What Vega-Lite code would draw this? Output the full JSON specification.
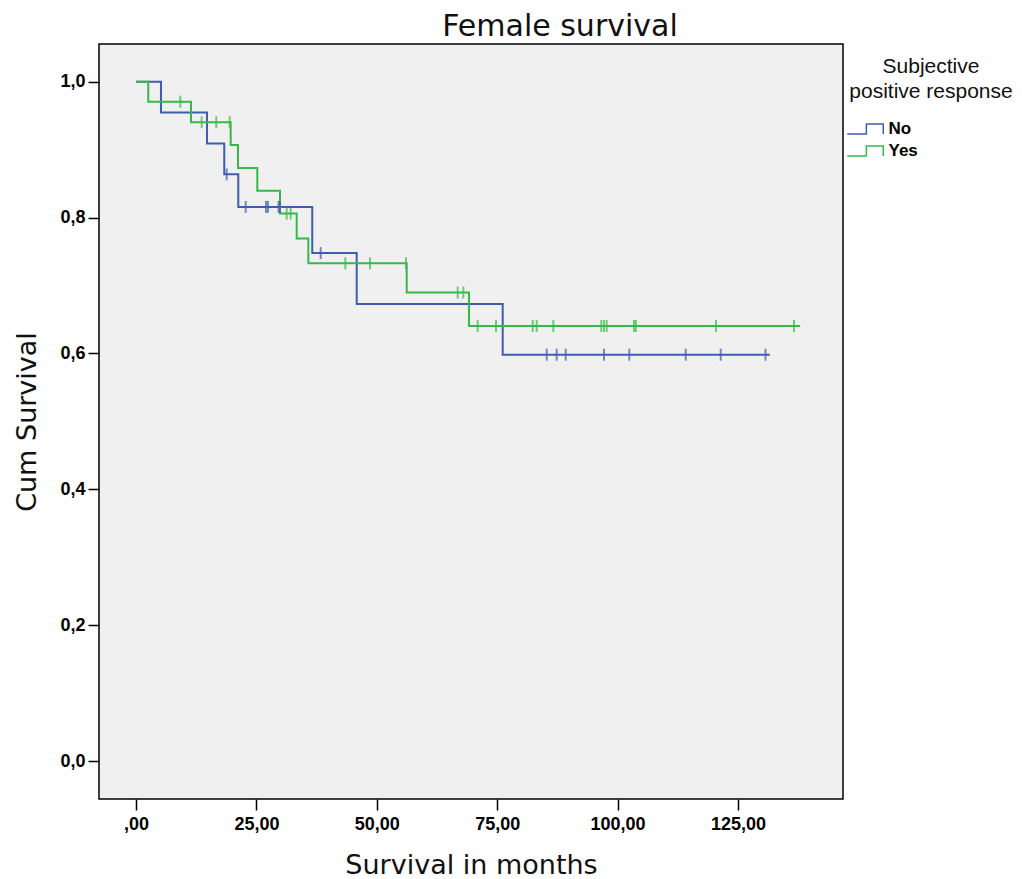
{
  "$schema": "https://vega.github.io/schema/vega-lite/v6.json",
  "width": 744,
  "height": 755,
  "autosize": {"type": "none"},
  "padding": {"left": 99, "top": 44, "right": 179, "bottom": 80},
  "background": "white",
  "title": {"text": "Female survival", "fontSize": 30, "font": "DejaVu Sans", "fontWeight": "normal", "color": "#111111", "anchor": "middle", "frame": "group", "dx": 89, "dy": 30, "baseline": "alphabetic", "offset": 8},
  "config": {
    "view": {"fill": "#f0f0f0", "stroke": "#000000", "strokeWidth": 1.5},
    "axis": {"grid": false, "domain": false, "tickColor": "#000000", "tickWidth": 1.5, "tickSize": 11, "labelFont": "Liberation Sans", "labelFontWeight": "bold", "labelFontSize": 18, "labelColor": "#000000", "titleFont": "DejaVu Sans", "titleFontWeight": "normal", "titleFontSize": 27, "titleColor": "#111111"},
    "legend": {"labelFont": "Liberation Sans", "titleFont": "Liberation Sans"}
  },
  "datasets": {
    "steps": [
      {"group": "No", "t": 0, "s": 1.0},
      {"group": "No", "t": 5.19, "s": 0.9545},
      {"group": "No", "t": 14.74, "s": 0.9091},
      {"group": "No", "t": 18.33, "s": 0.8636},
      {"group": "No", "t": 21.24, "s": 0.8157},
      {"group": "No", "t": 36.6, "s": 0.7477},
      {"group": "No", "t": 45.83, "s": 0.6729},
      {"group": "No", "t": 76.14, "s": 0.5981},
      {"group": "No", "t": 131.6, "s": 0.5981},
      {"group": "Yes", "t": 0, "s": 1.0},
      {"group": "Yes", "t": 2.55, "s": 0.9706},
      {"group": "Yes", "t": 11.42, "s": 0.9403},
      {"group": "Yes", "t": 19.66, "s": 0.9067},
      {"group": "Yes", "t": 21.18, "s": 0.8731},
      {"group": "Yes", "t": 25.19, "s": 0.8395},
      {"group": "Yes", "t": 29.9, "s": 0.8059},
      {"group": "Yes", "t": 33.37, "s": 0.7693},
      {"group": "Yes", "t": 35.78, "s": 0.7327},
      {"group": "Yes", "t": 56.21, "s": 0.6896},
      {"group": "Yes", "t": 69.14, "s": 0.6404},
      {"group": "Yes", "t": 137.9, "s": 0.6404}
    ],
    "censors": [
      {"group": "No", "t": 18.83, "s": 0.8636},
      {"group": "No", "t": 22.78, "s": 0.8157},
      {"group": "No", "t": 27.0, "s": 0.8157},
      {"group": "No", "t": 27.4, "s": 0.8157},
      {"group": "No", "t": 29.6, "s": 0.8157},
      {"group": "No", "t": 29.9, "s": 0.8157},
      {"group": "No", "t": 38.35, "s": 0.7477},
      {"group": "No", "t": 85.28, "s": 0.5981},
      {"group": "No", "t": 87.35, "s": 0.5981},
      {"group": "No", "t": 89.22, "s": 0.5981},
      {"group": "No", "t": 97.18, "s": 0.5981},
      {"group": "No", "t": 102.43, "s": 0.5981},
      {"group": "No", "t": 114.14, "s": 0.5981},
      {"group": "No", "t": 121.41, "s": 0.5981},
      {"group": "No", "t": 130.71, "s": 0.5981},
      {"group": "Yes", "t": 9.2, "s": 0.9706},
      {"group": "Yes", "t": 13.64, "s": 0.9403},
      {"group": "Yes", "t": 16.67, "s": 0.9403},
      {"group": "Yes", "t": 19.46, "s": 0.9403},
      {"group": "Yes", "t": 31.29, "s": 0.8059},
      {"group": "Yes", "t": 32.12, "s": 0.8059},
      {"group": "Yes", "t": 43.46, "s": 0.7327},
      {"group": "Yes", "t": 48.59, "s": 0.7327},
      {"group": "Yes", "t": 56.06, "s": 0.7327},
      {"group": "Yes", "t": 66.8, "s": 0.6896},
      {"group": "Yes", "t": 67.96, "s": 0.6896},
      {"group": "Yes", "t": 70.95, "s": 0.6404},
      {"group": "Yes", "t": 74.75, "s": 0.6404},
      {"group": "Yes", "t": 82.37, "s": 0.6404},
      {"group": "Yes", "t": 83.2, "s": 0.6404},
      {"group": "Yes", "t": 86.65, "s": 0.6404},
      {"group": "Yes", "t": 96.62, "s": 0.6404},
      {"group": "Yes", "t": 97.18, "s": 0.6404},
      {"group": "Yes", "t": 97.74, "s": 0.6404},
      {"group": "Yes", "t": 103.4, "s": 0.6404},
      {"group": "Yes", "t": 103.8, "s": 0.6404},
      {"group": "Yes", "t": 120.43, "s": 0.6404},
      {"group": "Yes", "t": 136.63, "s": 0.6404}
    ]
  },
  "layer": [
    {
      "data": {"name": "steps"},
      "mark": {"type": "line", "interpolate": "step-after", "strokeWidth": 2},
      "encoding": {
        "x": {"field": "t", "type": "quantitative", "title": "Survival in months",
              "scale": {"domain": [-7.68, 146.8], "nice": false, "zero": false},
              "axis": {"values": [0, 25, 50, 75, 100, 125], "labelPadding": 5, "titlePadding": 19,
                       "labelExpr": "datum.value == 0 ? ',00' : replace(format(datum.value, '.2f'), '.', ',')"}},
        "y": {"field": "s", "type": "quantitative", "title": "Cum Survival",
              "scale": {"domain": [-0.0559, 1.0555], "nice": false, "zero": false},
              "axis": {"values": [0, 0.2, 0.4, 0.6, 0.8, 1.0], "labelPadding": 3, "titlePadding": 18,
                       "labelExpr": "replace(format(datum.value, '.1f'), '.', ',')"}},
        "color": {"field": "group", "type": "nominal",
                  "scale": {"domain": ["No", "Yes"], "range": ["#3f5db0", "#37b848"]},
                  "legend": {"title": ["Subjective", "positive response"], "orient": "none", "legendX": 748, "legendY": 12,
                             "padding": 0, "titleFontSize": 21, "titleFontWeight": "normal", "titleColor": "#111111",
                             "titleAnchor": "start", "titleAlign": "center", "titleLineHeight": 25, "titlePadding": 17,
                             "labelFontSize": 17, "labelFontWeight": "bold", "labelColor": "#000000", "labelOffset": 21.5,
                             "symbolType": "M-1.08,0.56H1.04V-0.56H2.92V0.56", "symbolSize": 324, "symbolStrokeWidth": 1.5,
                             "symbolFillColor": "transparent", "rowPadding": 3,
                             "encode": {"symbols": {"update": {"fill": {"value": "transparent"}, "fillOpacity": {"value": 0}}},
                                        "title": {"update": {"dx": {"value": 84}}}}}}
      }
    },
    {
      "data": {"name": "censors"},
      "mark": {"type": "tick", "orient": "vertical", "size": 12, "thickness": 2},
      "encoding": {
        "x": {"field": "t", "type": "quantitative"},
        "y": {"field": "s", "type": "quantitative"},
        "color": {"field": "group", "type": "nominal", "legend": null}
      }
    }
  ]
}
